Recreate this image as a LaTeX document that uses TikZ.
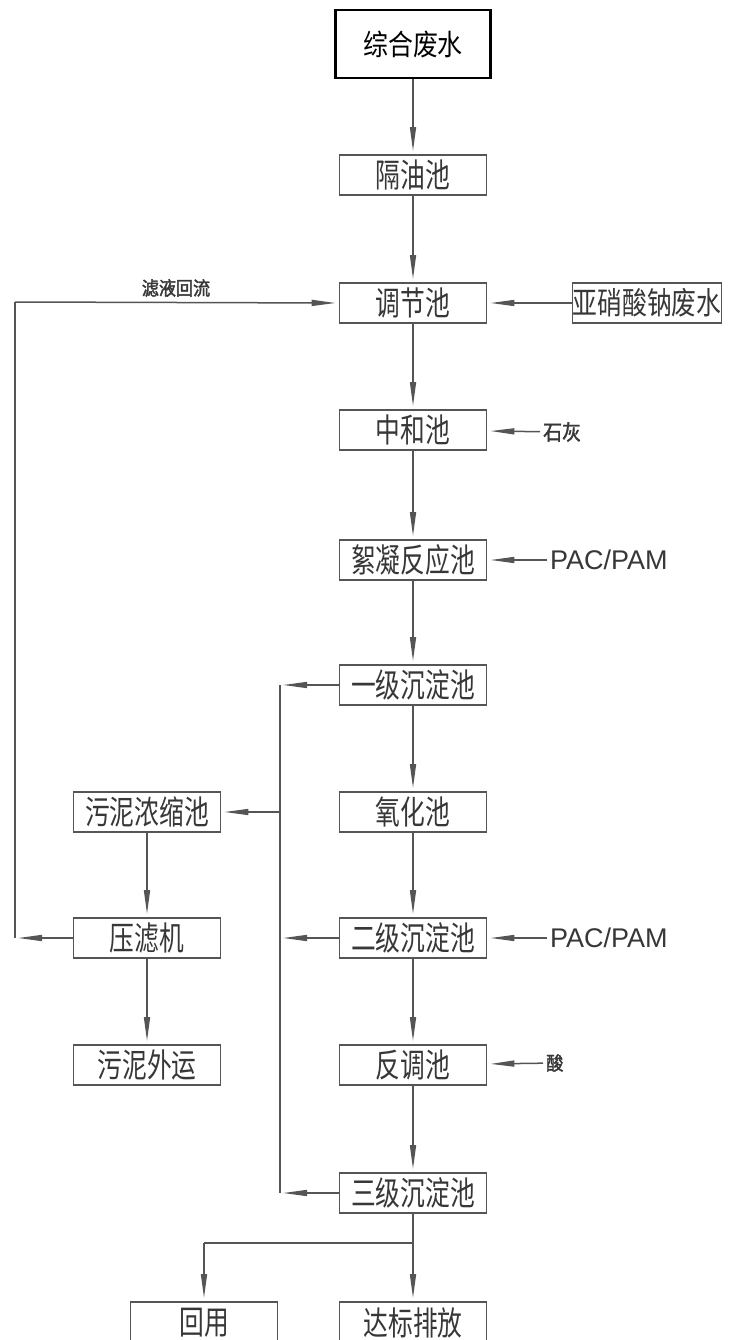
\documentclass[tikz,border=0pt]{standalone}
\usepackage{fontspec}
\newfontfamily\cjk[FakeStretch=0.75]{Noto Sans CJK SC}
\newfontfamily\cjkw[FakeStretch=0.8]{Noto Sans CJK SC}
\newfontfamily\cjkt[FakeStretch=0.86]{Noto Sans CJK SC}
\newfontfamily\cjkb[FakeStretch=0.9,FakeBold=2]{Noto Sans CJK SC}
\setsansfont{Liberation Sans}
\usetikzlibrary{arrows.meta}
\definecolor{ln}{RGB}{85,85,85}
\definecolor{tx}{RGB}{55,55,55}
\tikzset{
  box/.style={draw=ln, line width=1.8pt, minimum width=147pt, minimum height=40pt, inner sep=0pt, text=tx, font=\cjk\fontsize{33}{34}\selectfont},
  topbox/.style={draw=black, line width=2.4pt, minimum width=155pt, minimum height=68pt, inner sep=0pt, text=black, font=\cjkt\fontsize{29}{30}\selectfont},
  arr/.style={draw=ln, line width=1.5pt, -{Triangle[length=24pt,width=6pt]}, shorten >=3pt},
  ln/.style={draw=ln, line width=1.5pt},
  lbl/.style={text=tx, inner sep=3pt},
}
\begin{document}
\begin{tikzpicture}[x=1pt,y=-1pt]
\useasboundingbox (0,0) rectangle (728,1340);
\clip (0,0) rectangle (728,1340);
\fill[white] (0,0) rectangle (728,1340);
% main column
\node[topbox] (zh) at (413,44) {综合废水};
\node[box] (gy) at (413,175) {隔油池};
\node[box] (tj) at (413,303) {调节池};
\node[box, minimum width=149pt, font=\cjkw\fontsize{31}{32}\selectfont] (yx) at (647,303) {亚硝酸钠废水};
\node[box] (zhc) at (413,430) {中和池};
\node[box] (xn) at (413,560) {絮凝反应池};
\node[box] (y1) at (413,685) {一级沉淀池};
\node[box] (yh) at (413,812) {氧化池};
\node[box] (e2) at (413,938) {二级沉淀池};
\node[box] (ft) at (413,1065) {反调池};
\node[box] (s3) at (413,1193) {三级沉淀池};
\node[box, minimum height=42pt] (db) at (413,1323) {达标排放};
\node[box, minimum height=42pt] (hy) at (204,1323) {回用};
% sludge column
\node[box] (wn) at (147,812) {污泥浓缩池};
\node[box] (yl) at (147,938) {压滤机};
\node[box] (wy) at (147,1065) {污泥外运};
% reagent labels
\node[lbl, anchor=west, font=\cjkb\fontsize{21}{22}\selectfont] (sh) at (540,432) {石灰};
\node[lbl, anchor=west, font=\sffamily\fontsize{27}{28}\selectfont] (pac1) at (547,560) {PAC/PAM};
\node[lbl, anchor=west, font=\sffamily\fontsize{27}{28}\selectfont] (pac2) at (547,938) {PAC/PAM};
\node[lbl, anchor=west, font=\cjkb\fontsize{19}{20}\selectfont] (suan) at (543,1063) {酸};
\node[lbl, font=\cjkb\fontsize{19}{20}\selectfont] (lyhl) at (176,288) {滤液回流};
% coordinates
\coordinate (L1) at (15,938);
\coordinate (L2) at (15,302);
\coordinate (V1) at (280,685);
\coordinate (V2) at (280,812);
\coordinate (V3) at (280,938);
\coordinate (V4) at (280,1193);
\coordinate (B1) at (413,1243);
\coordinate (B2) at (204,1243);
% main flow
\draw[arr] (zh) -- (gy);
\draw[arr] (gy) -- (tj);
\draw[arr] (tj) -- (zhc);
\draw[arr] (zhc) -- (xn);
\draw[arr] (xn) -- (y1);
\draw[arr] (y1) -- (yh);
\draw[arr] (yh) -- (e2);
\draw[arr] (e2) -- (ft);
\draw[arr] (ft) -- (s3);
\draw[arr] (s3) -- (db);
\draw[ln] (B1) -- (B2);
\draw[arr] (B2) -- (hy);
% side inputs
\draw[arr] (yx) -- (tj);
\draw[arr] (sh) -- (zhc);
\draw[arr] (pac1) -- (xn);
\draw[arr] (pac2) -- (e2);
\draw[arr] (suan) -- (ft);
% sludge lines
\draw[arr] (y1) -- (V1);
\draw[arr] (e2) -- (V3);
\draw[arr] (s3) -- (V4);
\draw[ln] (V1) -- (V4);
\draw[arr] (V2) -- (wn);
\draw[arr] (wn) -- (yl);
\draw[arr] (yl) -- (wy);
% filtrate return
\draw[arr] (yl) -- (L1);
\draw[ln] (L1) -- (L2);
\draw[arr] (L2) -- (tj.west);
\end{tikzpicture}
\end{document}
